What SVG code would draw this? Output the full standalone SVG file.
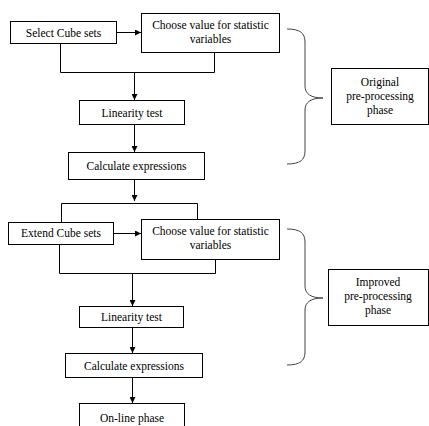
<svg xmlns="http://www.w3.org/2000/svg" width="429" height="426" viewBox="0 0 429 426">
<style>
.box{fill:#fff;stroke:#000;stroke-width:1}
.t{font-family:"Liberation Serif","Times New Roman",serif;font-size:11.5px;fill:#000;text-anchor:middle}
.c{fill:none;stroke:#000;stroke-width:1}
.b{fill:none;stroke:#444;stroke-width:1}
</style>
<defs>
<marker id="ah" viewBox="0 0 6 6" refX="6" refY="3" markerWidth="6" markerHeight="6" markerUnits="userSpaceOnUse" orient="auto">
<path d="M0,0 L6,3 L0,6 z" fill="#000"/>
</marker>
</defs>
<rect width="429" height="426" fill="#fff"/>
<g id="connectors">
<line class="c" x1="117" y1="32.5" x2="141" y2="32.5" marker-end="url(#ah)"/>
<polyline class="c" points="60.5,41 60.5,72.5 214.5,72.5 214.5,53"/>
<line class="c" x1="134.5" y1="72.5" x2="134.5" y2="100" marker-end="url(#ah)"/>
<line class="c" x1="134.5" y1="125" x2="134.5" y2="152" marker-end="url(#ah)"/>
<line class="c" x1="134.5" y1="180" x2="134.5" y2="201" marker-end="url(#ah)"/>
<polyline class="c" points="61.5,222 61.5,203.5 197.5,203.5 197.5,219"/>
<line class="c" x1="114" y1="233.5" x2="141" y2="233.5" marker-end="url(#ah)"/>
<polyline class="c" points="59.5,245 59.5,273.5 215.5,273.5 215.5,260"/>
<line class="c" x1="132.5" y1="273.5" x2="132.5" y2="306" marker-end="url(#ah)"/>
<line class="c" x1="132.5" y1="327" x2="132.5" y2="353" marker-end="url(#ah)"/>
<line class="c" x1="132.5" y1="378" x2="132.5" y2="403" marker-end="url(#ah)"/>
<path class="b" d="M287,29 C300,29 305,33 305,42 L305,86 C305,94 311,98 323,98 C311,98 305,102 305,110 L305,151 C305,160 300,164 287,164"/>
<path class="b" d="M287,229 C300,229 305,233 305,242 L305,286 C305,294 311,298 323,298 C311,298 305,302 305,310 L305,352 C305,361 300,365 287,365"/>
</g>
<g id="select"><rect class="box" x="10.5" y="21.5" width="106" height="22"/><text class="t" x="63.5" y="36.5">Select Cube sets</text></g>
<g id="choose1"><rect class="box" x="141.5" y="13.5" width="138" height="39"/><text class="t" x="210.5" y="29">Choose value for statistic</text><text class="t" x="210.5" y="43">variables</text></g>
<g id="linearity1"><rect class="box" x="79.5" y="100.5" width="105" height="24"/><text class="t" x="132" y="117">Linearity test</text></g>
<g id="calc1"><rect class="box" x="68.5" y="152.5" width="136" height="27"/><text class="t" x="136.5" y="170">Calculate expressions</text></g>
<g id="original"><rect class="box" x="331.5" y="68.5" width="97" height="56"/><text class="t" x="380" y="86">Original</text><text class="t" x="380" y="100">pre-processing</text><text class="t" x="380" y="114">phase</text></g>
<g id="extend"><rect class="box" x="8.5" y="222.5" width="105" height="22"/><text class="t" x="61" y="237">Extend Cube sets</text></g>
<g id="choose2"><rect class="box" x="141.5" y="219.5" width="138" height="40"/><text class="t" x="210.5" y="235">Choose value for statistic</text><text class="t" x="210.5" y="249">variables</text></g>
<g id="linearity2"><rect class="box" x="79.5" y="306.5" width="104" height="21"/><text class="t" x="131.5" y="321">Linearity test</text></g>
<g id="calc2"><rect class="box" x="65.5" y="353.5" width="137" height="24"/><text class="t" x="134" y="369.5">Calculate expressions</text></g>
<g id="improved"><rect class="box" x="328.5" y="269.5" width="100" height="56"/><text class="t" x="378" y="286">Improved</text><text class="t" x="378" y="300">pre-processing</text><text class="t" x="378" y="314">phase</text></g>
<g id="online"><rect class="box" x="79.5" y="403.5" width="105" height="30"/><text class="t" x="132" y="422">On-line phase</text></g>
</svg>
